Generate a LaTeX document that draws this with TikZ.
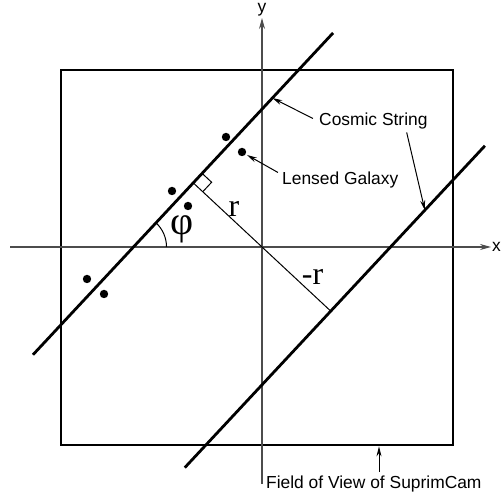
\documentclass[tikz,border=0pt]{standalone}
\usepackage{fontspec}
\setmainfont{Liberation Sans}
\newfontfamily\serifface{Liberation Serif}
\usetikzlibrary{calc,arrows.meta}
\begin{document}
\begin{tikzpicture}[x=1pt,y=1pt,
  thickline/.style={line width=2.8pt},
  axisline/.style={line width=1.2pt,black!70,-{Stealth[length=11pt,width=6pt]}},
  ann/.style={line width=1pt,-{Stealth[length=10pt,width=5pt]}},
  lbl/.style={font=\fontsize{17.4}{20}\selectfont,inner sep=0pt},
  mlbl/.style={font=\serifface\fontsize{32}{36}\selectfont,inner sep=0pt},
  dot/.style={fill=black}]
\useasboundingbox (0,0) rectangle (501,494);
% field of view
\node[draw,line width=2.6pt,minimum width=392,minimum height=375,inner sep=0pt] (fov) at (257,236.5) {};
% axes
\coordinate (O) at (262,247);
\coordinate (xs) at (10,247);
\coordinate (xe) at (491,247);
\coordinate (ys) at (262,10);
\coordinate (ye) at (262,476);
\draw[axisline] (xs) -- (xe);
\draw[axisline] (ys) -- (ye);
\node[lbl,anchor=base west] (xl) at (492,242) {x};
\node[lbl,anchor=base] (yl) at (262,481) {y};
% strings
\coordinate (F1) at ($(O)+(137:94)$);
\coordinate (F2) at ($(O)+(-43:94)$);
\coordinate (A1) at ($(F1)+(47:205)$);
\coordinate (A2) at ($(F1)+(227:235)$);
\coordinate (B1) at ($(F2)+(47:226)$);
\coordinate (B2) at ($(F2)+(227:214)$);
\draw[thickline] (A2) -- (A1);
\draw[thickline] (B2) -- (B1);
% perpendicular
\draw[line width=1pt] (F1) -- (F2);
\draw[line width=1pt] ($(F1)+(47:13)$) -- ($(F1)+(47:13)+(-43:13)$) -- ($(F1)+(-43:13)$);
% angle
\coordinate (P) at ($(F1)+(227:87.6)$);
\draw[line width=1pt] ($(P)+(33,0)$) arc[start angle=0,end angle=47,radius=33];
\node[font=\serifface\fontsize{40}{44}\selectfont,inner sep=0pt] (phi) at (182.5,264.5) {φ};
\node[mlbl,anchor=base] (rl) at (234,277) {r};
\node[mlbl,anchor=base] (mr) at (312.5,209) {-r};
% galaxies
\fill[dot] (226,357) circle (4.2);
\fill[dot] (242,342) circle (4.2);
\fill[dot] (172,303) circle (4.2);
\fill[dot] (188,288) circle (4.2);
\fill[dot] (87,215) circle (4.2);
\fill[dot] (104,200) circle (4.2);
% labels
\node[lbl,anchor=base west] (cs) at (319,368) {Cosmic String};
\node[lbl,anchor=base west] (lg) at (282,309) {Lensed Galaxy};
\node[lbl,anchor=base west] (fv) at (266,5) {Field of View of SuprimCam};
\draw[ann] ($(cs.west)+(-6,3)$) -- ($(F1)+(47:116)$);
\draw[ann] ($(cs.east)+(-21,-11)$) -- ($(F2)+(47:138)$);
\draw[ann] ($(lg.west)+(-4,8)$) -- (247,339);
\coordinate (fvt) at (379,22);
\draw[ann] (fvt) -- (379,47.6);
\end{tikzpicture}
\end{document}
